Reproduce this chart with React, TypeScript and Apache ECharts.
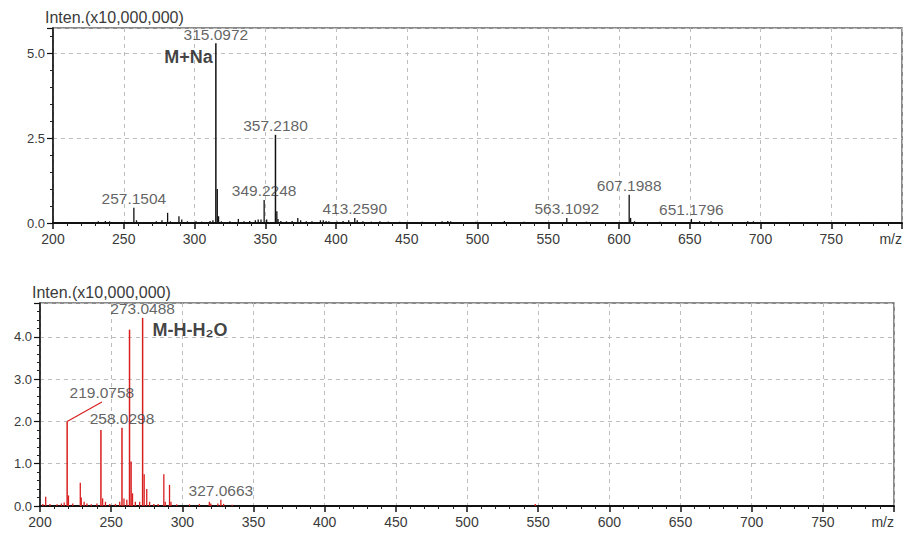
import React, { useEffect, useRef } from "react";
import * as echarts from "echarts";

// ---- Data ----
// Top spectrum (positive mode), intensity in x10,000,000
const topMz = [
  232, 237, 240, 257.15, 259, 273, 277, 281, 283, 289, 291, 295, 301, 305, 311, 313,
  315.1, 316.1, 317, 319, 325, 331, 335, 339, 343, 345, 347, 349.22, 351, 357.22, 358.2,
  359, 361, 365, 369, 373, 375, 379, 383, 389, 391, 393, 395, 401, 405, 409, 413.26, 415,
  419, 425, 431, 437, 445, 461, 475, 479, 481, 499, 519, 533, 563.11, 577, 607.2, 608.2,
  611, 629, 651.18, 657, 665, 691, 695,
];
const topInt = [
  0.05, 0.06, 0.05, 0.45, 0.08, 0.05, 0.08, 0.3, 0.05, 0.2, 0.1, 0.05, 0.05, 0.04, 0.06, 0.08,
  5.3, 1.0, 0.2, 0.05, 0.05, 0.12, 0.05, 0.06, 0.08, 0.1, 0.1, 0.68, 0.1, 2.6, 0.35,
  0.12, 0.06, 0.05, 0.06, 0.15, 0.08, 0.05, 0.05, 0.08, 0.08, 0.06, 0.05, 0.04, 0.06, 0.08, 0.15, 0.08,
  0.05, 0.04, 0.05, 0.04, 0.04, 0.04, 0.05, 0.06, 0.05, 0.04, 0.06, 0.04, 0.15, 0.04, 0.83, 0.15,
  0.05, 0.04, 0.12, 0.05, 0.05, 0.05, 0.05,
];
const topLabelMz = [257.15, 315.1, 349.22, 357.22, 413.26, 563.11, 607.2, 651.18];
const topLabelInt = [0.45, 5.3, 0.68, 2.6, 0.15, 0.15, 0.83, 0.12];
const topLabelText = ["257.1504", "315.0972", "349.2248", "357.2180", "413.2590", "563.1092", "607.1988", "651.1796"];

// Bottom spectrum (negative mode)
const botMz = [
  202, 204, 207, 212, 215, 217, 219.08, 220, 223, 228.3, 229, 231, 233, 236, 240, 242.8, 244,
  246, 249, 253, 256, 257.6, 259, 261, 262.9, 264, 265, 267, 270, 272.1, 273.2, 275, 277, 280,
  283, 287, 288, 291, 292, 296, 305, 312, 319, 320, 325, 327.07, 329, 335, 548,
];
const botInt = [
  0.05, 0.22, 0.05, 0.04, 0.06, 0.08, 2.0, 0.25, 0.06, 0.55, 0.2, 0.1, 0.06, 0.04, 0.06, 1.8, 0.18,
  0.1, 0.05, 0.05, 0.1, 1.85, 0.18, 0.15, 4.17, 1.05, 0.3, 0.1, 0.1, 4.45, 0.75, 0.4, 0.1, 0.05,
  0.05, 0.75, 0.1, 0.5, 0.1, 0.04, 0.04, 0.05, 0.1, 0.06, 0.06, 0.15, 0.05, 0.03, 0.05,
];
const botLabelMz = [272.1, 257.6, 327.07];
const botLabelInt = [4.45, 1.85, 0.15];
const botLabelText = ["273.0488", "258.0298", "327.0663"];
// Label of the 219.0758 peak, placed at the end of a leader line
const leaderFrom = [219.08, 2.0];
const leaderTo = [243.5, 2.46];
const leaderText = "219.0758";

const xTicksMin = 200;
const xTicksMax = 800;
const topYMax = 5.75;
const botYMax = 4.8;
const yName = "Inten.(x10,000,000)";

const BLACK = "#111111";
const RED = "#d91e1e";
const TEXT = "#3a3a3a";
const FONT = "Liberation Sans, Arial, sans-serif";

function stickSeries(mz: number[], inten: number[], idx: number, color: string) {
  return {
    type: "custom",
    xAxisIndex: idx,
    yAxisIndex: idx,
    data: mz.map((m, i) => [m, inten[i]]),
    encode: { x: 0, y: 1 },
    silent: true,
    renderItem: (params: any, api: any) => {
      const x = api.value(0);
      const y = api.value(1);
      const p0 = api.coord([x, 0]);
      const p1 = api.coord([x, y]);
      return {
        type: "line",
        shape: { x1: p0[0], y1: p0[1], x2: p1[0], y2: p1[1] },
        style: { stroke: color, lineWidth: y > 1 ? 1.5 : 1.3 },
      };
    },
  };
}

function labelSeries(mz: number[], inten: number[], text: string[], idx: number) {
  return {
    type: "scatter",
    xAxisIndex: idx,
    yAxisIndex: idx,
    symbolSize: 0,
    silent: true,
    data: mz.map((m, i) => ({ value: [m, inten[i]], name: text[i] })),
    label: {
      show: true,
      position: "top",
      distance: 1,
      formatter: (p: any) => p.name,
      color: TEXT,
      fontSize: 15.5,
      fontFamily: FONT,
    },
  };
}

function xAxis(idx: number) {
  return {
    type: "value",
    gridIndex: idx,
    min: xTicksMin,
    max: xTicksMax,
    interval: 50,
    axisLine: { show: true, onZero: false, lineStyle: { color: "#111", width: 2 } },
    axisTick: { show: true, length: 6, lineStyle: { color: "#111", width: 1.5 } },
    minorTick: { show: true, splitNumber: 5, length: 3, lineStyle: { color: "#222", width: 1 } },
    splitLine: { show: true, lineStyle: { color: "#bdbdbd", type: [4, 4], width: 1 } },
    axisLabel: {
      color: TEXT,
      fontSize: 14,
      fontFamily: FONT,
      margin: 9,
      alignMaxLabel: "right",
      formatter: (v: number) => (v === xTicksMax ? "m/z" : String(v)),
    },
  };
}

function yAxis(idx: number, max: number, interval: number) {
  return {
    type: "value",
    gridIndex: idx,
    min: 0,
    max,
    interval,
    name: yName,
    nameLocation: "end",
    nameGap: 3,
    nameTextStyle: { color: TEXT, fontSize: 16, fontFamily: FONT, align: "left", padding: [0, 0, 0, -8] },
    axisLine: { show: true, lineStyle: { color: "#111", width: 1.5 } },
    axisTick: { show: true, length: 6, lineStyle: { color: "#111", width: 1.2 } },
    minorTick: { show: true, splitNumber: 5, length: 3, lineStyle: { color: "#222", width: 1 } },
    splitLine: { show: true, lineStyle: { color: "#bdbdbd", type: [4, 4], width: 1 } },
    axisLabel: {
      color: TEXT,
      fontSize: 13,
      fontFamily: FONT,
      margin: 8,
      showMaxLabel: false,
      formatter: (v: number) => v.toFixed(1),
    },
  };
}

export default function App() {
  const ref = useRef<HTMLDivElement>(null);
  useEffect(() => {
    if (!ref.current) return;
    const chart = echarts.init(ref.current, null, { renderer: "svg" });
    chart.setOption({
      animation: false,
      backgroundColor: "#ffffff",
      grid: [
        { left: 53, right: 5, top: 28, height: 195, show: true, borderColor: "#666", borderWidth: 1.5, backgroundColor: "transparent" },
        { left: 40, right: 13, top: 303, height: 203, show: true, borderColor: "#666", borderWidth: 1.5, backgroundColor: "transparent" },
      ],
      xAxis: [xAxis(0), xAxis(1)],
      yAxis: [yAxis(0, topYMax, 2.5), yAxis(1, botYMax, 1)],
      series: [
        stickSeries(topMz, topInt, 0, BLACK),
        stickSeries(botMz, botInt, 1, RED),
        labelSeries(topLabelMz, topLabelInt, topLabelText, 0),
        labelSeries(botLabelMz, botLabelInt, botLabelText, 1),
        {
          type: "line",
          xAxisIndex: 1,
          yAxisIndex: 1,
          silent: true,
          symbol: "none",
          data: [leaderFrom, leaderTo],
          lineStyle: { color: RED, width: 1.2 },
        },
        labelSeries([leaderTo[0]], [leaderTo[1]], [leaderText], 1),
        {
          type: "scatter",
          xAxisIndex: 0,
          yAxisIndex: 0,
          symbolSize: 0,
          silent: true,
          data: [{ value: [315.1, 4.9], name: "M+Na" }],
          label: {
            show: true,
            position: "left",
            distance: 3,
            formatter: (p: any) => p.name,
            color: "#111",
            fontSize: 18,
            fontWeight: "bold",
            fontFamily: FONT,
          },
        },
        {
          type: "scatter",
          xAxisIndex: 1,
          yAxisIndex: 1,
          symbolSize: 0,
          silent: true,
          data: [{ value: [272.1, 4.17], name: "M-H-H₂O" }],
          label: {
            show: true,
            position: "right",
            distance: 10,
            formatter: (p: any) => p.name,
            color: "#111",
            fontSize: 18,
            fontWeight: "bold",
            fontFamily: FONT,
          },
        },
      ],
    });
    return () => chart.dispose();
  }, []);
  return (
    <div
      ref={ref}
      style={{ position: "fixed", left: 0, top: 0, width: 907, height: 533, background: "#fff" }}
    />
  );
}
